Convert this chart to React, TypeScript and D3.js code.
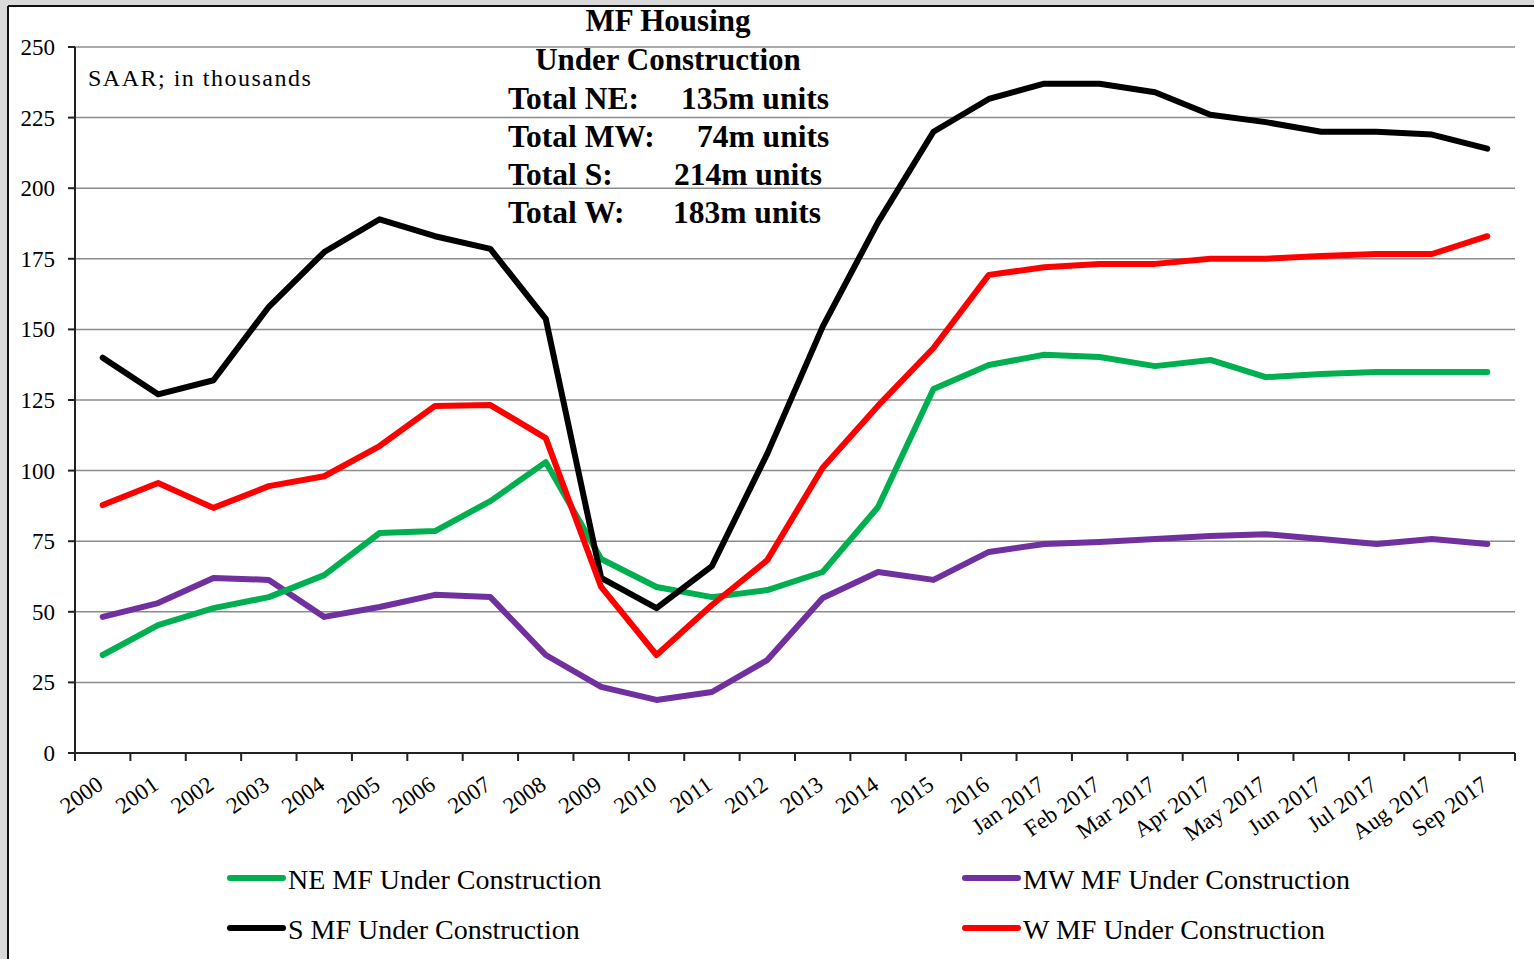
import React from "react";
import * as d3 from "d3";

const categories = [
  "2000", "2001", "2002", "2003", "2004", "2005", "2006", "2007", "2008", "2009",
  "2010", "2011", "2012", "2013", "2014", "2015", "2016",
  "Jan 2017", "Feb 2017", "Mar 2017", "Apr 2017", "May 2017", "Jun 2017",
  "Jul 2017", "Aug 2017", "Sep 2017",
];

const neValues = [34.7, 45.3, 51.3, 55.2, 63, 77.9, 78.6, 89.2, 103, 68.7, 58.8, 55.2, 57.7, 64.1, 87.1, 128.9, 137.4, 141, 140.2, 137, 139.2, 133.1, 134.2, 134.9, 134.9, 134.9];
const mwValues = [48.2, 53.1, 62, 61.3, 48.2, 51.7, 56, 55.2, 34.7, 23.4, 18.8, 21.6, 32.9, 54.9, 64.1, 61.3, 71.2, 74, 74.7, 75.8, 76.8, 77.5, 75.8, 74, 75.8, 74];
const sValues = [140, 127, 132, 158, 177.4, 189, 183, 178.5, 153.7, 62, 51.3, 66.2, 106, 151, 188, 220, 231.6, 237, 237, 234, 226, 223.4, 220, 220, 219, 214];
const wValues = [87.8, 95.6, 86.8, 94.5, 98, 108.7, 122.9, 123.2, 111.5, 58.8, 34.7, 52.4, 68.3, 101, 123, 143.4, 169.3, 172, 173.2, 173.2, 175, 175, 176, 176.7, 176.7, 183];

const yTicks = [0, 25, 50, 75, 100, 125, 150, 175, 200, 225, 250];

const seriesNames = [
  "NE MF Under Construction",
  "MW MF Under Construction",
  "S MF Under Construction",
  "W MF Under Construction",
];
const seriesColors = ["#00b050", "#7030a0", "#000000", "#ff0000"];

const titleLines = ["MF Housing", "Under Construction"];
const totalLabels = ["Total NE:", "Total MW:", "Total S:", "Total W:"];
const totalValues = ["135m units", "74m units", "214m units", "183m units"];

const W = 1534;
const H = 959;
const left = 75;
const right = 1515;
const top = 47;
const bottom = 753;

export default function App() {
  const x = d3.scaleBand<string>().domain(categories).range([left, right]);
  const y = d3.scaleLinear().domain([0, 250]).range([bottom, top]);
  const cx = (c: string) => (x(c) as number) + x.bandwidth() / 2;

  const allSeries = [neValues, mwValues, sValues, wValues];
  const line = d3
    .line<number>()
    .x((_, i) => cx(categories[i]))
    .y((d) => y(d));

  const drawOrder = [1, 0, 2, 3];

  const tickBounds = d3.range(categories.length + 1).map((i) => left + i * x.bandwidth());

  const font = "'Liberation Serif', 'Times New Roman', serif";
  const totalValueX = [681, 697, 674, 673];

  const legendPos = [
    { lx: 230, ly: 878 },
    { lx: 965, ly: 878 },
    { lx: 230, ly: 928 },
    { lx: 965, ly: 928 },
  ];

  return (
    <svg
      width={W}
      height={H}
      style={{ position: "absolute", left: 0, top: 0, fontFamily: font }}
    >
      <rect x={0} y={0} width={W} height={H} fill="#d9d9d9" />
      <rect x={8} y={6} width={W - 8} height={H - 6} fill="#ffffff" />
      <line x1={8} y1={6} x2={W} y2={6} stroke="#111" strokeWidth={2} />
      <line x1={8} y1={6} x2={8} y2={H} stroke="#111" strokeWidth={2} />

      {yTicks.filter((t) => t > 0).map((t) => (
        <line key={t} x1={left} x2={right} y1={y(t)} y2={y(t)} stroke="#8c8c8c" strokeWidth={1.5} />
      ))}

      <line x1={left} x2={left} y1={top} y2={bottom} stroke="#222" strokeWidth={2} />
      {yTicks.map((t) => (
        <g key={t}>
          <line x1={left - 7} x2={left} y1={y(t)} y2={y(t)} stroke="#222" strokeWidth={2} />
          <text x={55} y={y(t) + 8} textAnchor="end" fontSize={23} fill="#000">
            {t}
          </text>
        </g>
      ))}

      <line x1={left} x2={right} y1={bottom} y2={bottom} stroke="#222" strokeWidth={2} />
      {tickBounds.map((bx, i) => (
        <line key={i} x1={bx} x2={bx} y1={bottom} y2={bottom + 8} stroke="#222" strokeWidth={2} />
      ))}
      {categories.map((c) => (
        <text
          key={c}
          transform={`translate(${cx(c) + 2},${bottom + 35}) rotate(-35)`}
          textAnchor="end"
          fontSize={23}
          fill="#000"
        >
          {c}
        </text>
      ))}

      {drawOrder.map((si) => (
        <path
          key={si}
          d={line(allSeries[si]) || ""}
          fill="none"
          stroke={seriesColors[si]}
          strokeWidth={6}
          strokeLinejoin="round"
          strokeLinecap="round"
        />
      ))}

      <text x={88} y={86} fontSize={24} letterSpacing={1.5} fill="#000">
        SAAR; in thousands
      </text>

      {titleLines.map((t, i) => (
        <text key={t} x={668} y={31 + i * 39} textAnchor="middle" fontSize={31} fontWeight="bold" fill="#000">
          {t}
        </text>
      ))}
      {totalLabels.map((t, i) => (
        <g key={t}>
          <text x={508} y={109 + i * 38} fontSize={31.5} fontWeight="bold" fill="#000">
            {t}
          </text>
          <text x={totalValueX[i]} y={109 + i * 38} fontSize={31.5} fontWeight="bold" fill="#000">
            {totalValues[i]}
          </text>
        </g>
      ))}

      {seriesNames.map((n, i) => (
        <g key={n}>
          <line
            x1={legendPos[i].lx}
            x2={legendPos[i].lx + 53}
            y1={legendPos[i].ly}
            y2={legendPos[i].ly}
            stroke={seriesColors[i]}
            strokeWidth={6}
            strokeLinecap="round"
          />
          <text x={legendPos[i].lx + 58} y={legendPos[i].ly + 11} fontSize={28} fill="#000">
            {n}
          </text>
        </g>
      ))}
    </svg>
  );
}
